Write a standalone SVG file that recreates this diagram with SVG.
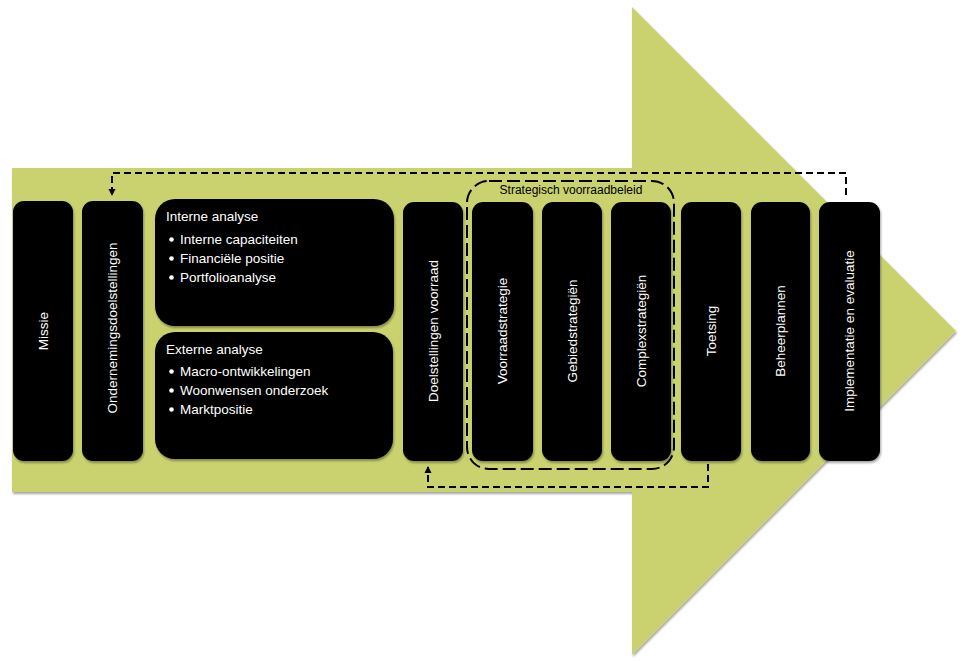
<svg xmlns="http://www.w3.org/2000/svg" width="967" height="661" viewBox="0 0 967 661">
  <style>
    .box { fill: #000000; filter: url(#sh); }
    .vt { font-family: "Liberation Sans", Arial, sans-serif; font-size: 13.5px; fill: #ffffff; text-anchor: middle; }
    .ht { font-family: "Liberation Sans", Arial, sans-serif; font-size: 13.5px; fill: #ffffff; }
    .bul { fill: #ffffff; }
    .dash { fill: none; stroke: #000000; stroke-width: 2; stroke-dasharray: 7 4; }
    .grp { fill: none; stroke: #000000; stroke-width: 2; stroke-dasharray: 13 5; }
    .lbl { font-family: "Liberation Sans", Arial, sans-serif; font-size: 12px; fill: #000000; text-anchor: middle; }
  </style>
  <defs>
    <filter id="sh" x="-20%" y="-20%" width="140%" height="140%">
      <feDropShadow dx="1" dy="2" stdDeviation="1.2" flood-color="#000000" flood-opacity="0.35"/>
    </filter>
    <marker id="ah" markerWidth="8" markerHeight="8" refX="6" refY="4" orient="auto" markerUnits="userSpaceOnUse">
      <path d="M0,0.5 L7,4 L0,7.5 Z" fill="#000000"/>
    </marker>
  </defs>

  <g id="arrow">
    <polygon points="12,168 632,168 632,7 956,331 632,655 632,492 12,492" fill="#CAD270" filter="url(#sh)"/>
  </g>

  <g id="missie">
    <rect class="box" x="13" y="201" width="60" height="260" rx="11"/>
    <text class="vt" transform="translate(47.5,331) rotate(-90)">Missie</text>
  </g>
  <g id="ondernemingsdoelstellingen">
    <rect class="box" x="82" y="201" width="61" height="260" rx="11"/>
    <text class="vt" transform="translate(117,328) rotate(-90)">Ondernemingsdoelstellingen</text>
  </g>
  <g id="interne-analyse">
    <rect class="box" x="155" y="199" width="239" height="127" rx="20"/>
    <text class="ht" x="166" y="221">Interne analyse</text>
    <circle class="bul" cx="171.5" cy="239.5" r="2.3"/>
    <text class="ht" x="180" y="244">Interne capaciteiten</text>
    <circle class="bul" cx="171.5" cy="258.5" r="2.3"/>
    <text class="ht" x="180" y="263">Financiële positie</text>
    <circle class="bul" cx="171.5" cy="277.5" r="2.3"/>
    <text class="ht" x="180" y="282">Portfolioanalyse</text>
  </g>
  <g id="externe-analyse">
    <rect class="box" x="155" y="332" width="238" height="127" rx="20"/>
    <text class="ht" x="166" y="354">Externe analyse</text>
    <circle class="bul" cx="171.5" cy="371.5" r="2.3"/>
    <text class="ht" x="180" y="376">Macro-ontwikkelingen</text>
    <circle class="bul" cx="171.5" cy="390.5" r="2.3"/>
    <text class="ht" x="180" y="395">Woonwensen onderzoek</text>
    <circle class="bul" cx="171.5" cy="409.5" r="2.3"/>
    <text class="ht" x="180" y="414">Marktpositie</text>
  </g>
  <g id="doelstellingen-voorraad">
    <rect class="box" x="403" y="202" width="60" height="259" rx="11"/>
    <text class="vt" transform="translate(437.5,331) rotate(-90)">Doelstellingen voorraad</text>
  </g>
  <g id="voorraadstrategie">
    <rect class="box" x="472" y="202" width="61" height="259" rx="11"/>
    <text class="vt" transform="translate(507,331) rotate(-90)">Voorraadstrategie</text>
  </g>
  <g id="gebiedstrategien">
    <rect class="box" x="542" y="202" width="60" height="259" rx="11"/>
    <text class="vt" transform="translate(576.5,331) rotate(-90)">Gebiedstrategiën</text>
  </g>
  <g id="complexstrategien">
    <rect class="box" x="611" y="202" width="60" height="259" rx="11"/>
    <text class="vt" transform="translate(645.5,331) rotate(-90)">Complexstrategiën</text>
  </g>
  <g id="toetsing">
    <rect class="box" x="681" y="202" width="60" height="259" rx="11"/>
    <text class="vt" transform="translate(715.5,331) rotate(-90)">Toetsing</text>
  </g>
  <g id="beheerplannen">
    <rect class="box" x="751" y="202" width="59" height="259" rx="11"/>
    <text class="vt" transform="translate(785,331) rotate(-90)">Beheerplannen</text>
  </g>
  <g id="implementatie-en-evaluatie">
    <rect class="box" x="819" y="202" width="61" height="259" rx="11"/>
    <text class="vt" transform="translate(854,331) rotate(-90)">Implementatie en evaluatie</text>
  </g>

  <g id="strategisch-voorraadbeleid">
    <rect class="grp" x="467" y="181" width="207" height="288" rx="22"/>
    <text class="lbl" x="571" y="194">Strategisch voorraadbeleid</text>
  </g>

  <g id="connectors">
    <path class="dash" d="M846,195 L846,173 L112,173 L112,195" marker-end="url(#ah)"/>
    <path class="dash" d="M708,464 L708,487 L428,487 L428,467" marker-end="url(#ah)"/>
  </g>
</svg>
